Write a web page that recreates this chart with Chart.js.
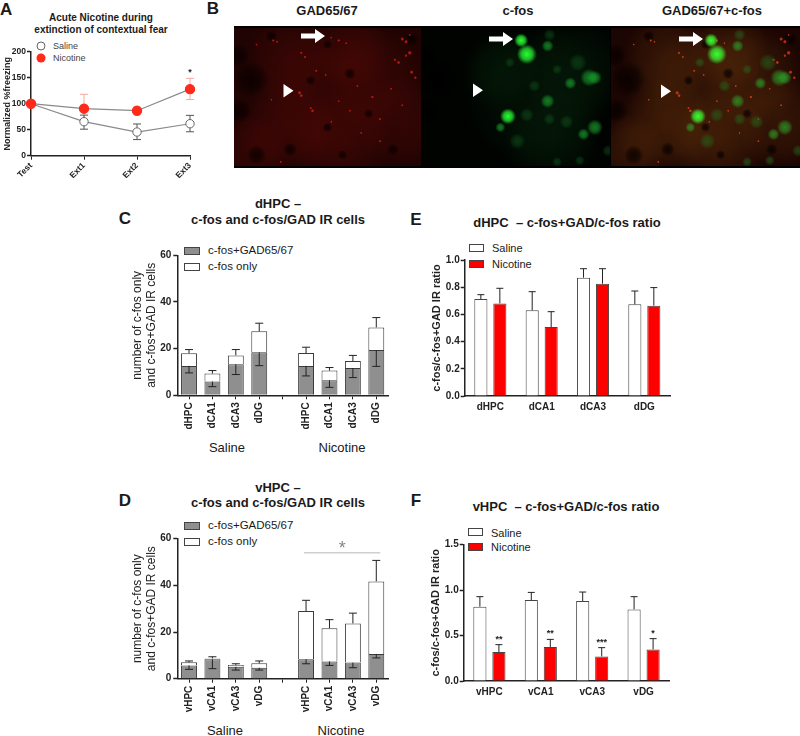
<!DOCTYPE html>
<html>
<head>
<meta charset="utf-8">
<title>Acute nicotine, c-fos and GAD65/67</title>
<script src="https://cdn.jsdelivr.net/npm/chart.js@4"></script>
<style>
  html, body { margin: 0; padding: 0; background: #fff; }
  body { width: 800px; height: 736px; position: relative; overflow: hidden; font-family: "Liberation Sans", Arial, sans-serif; color: #1a1a1a; }
  canvas { position: absolute; }
  .t { position: absolute; white-space: nowrap; line-height: 1; transform: translate(-50%, -50%); }
  .b { font-weight: bold; }
  .l { position: absolute; white-space: nowrap; line-height: 1; transform: translateY(-50%); }
  .sw { position: absolute; box-sizing: border-box; border: 1px solid #444; }
  .dot { position: absolute; width: 9px; height: 9px; border-radius: 50%; box-sizing: border-box; transform: translate(-50%, -50%); }
  #frame { position: absolute; left: 234px; top: 26px; width: 566px; height: 142px; background: #000; }
  .micro { filter: blur(0.7px); }
  svg { position: absolute; left: 0; top: 0; }
</style>
</head>
<body>

<div class="l b" style="left:0;top:9px;font-size:17px">A</div>
<div class="t b" style="left:213px;top:8px;font-size:17px">B</div>
<div class="t b" style="left:125px;top:218px;font-size:17px">C</div>
<div class="t b" style="left:125px;top:500px;font-size:17px">D</div>
<div class="t b" style="left:416px;top:219px;font-size:17px">E</div>
<div class="t b" style="left:416px;top:500px;font-size:17px">F</div>

<div class="t b" style="left:101px;top:18px;font-size:10px">Acute Nicotine during</div>
<div class="t b" style="left:101px;top:30px;font-size:10px">extinction of contextual fear</div>
<div class="dot" style="left:41px;top:46px;background:#fff;border:1px solid #666"></div>
<div class="dot" style="left:41px;top:58px;background:#ff2a1a"></div>
<div class="l" style="left:53px;top:46px;font-size:9px;color:#444">Saline</div>
<div class="l" style="left:53px;top:58px;font-size:9px;color:#444">Nicotine</div>

<div class="t b" style="left:327px;top:10px;font-size:13px">GAD65/67</div>
<div class="t b" style="left:518px;top:10px;font-size:13px">c-fos</div>
<div class="t b" style="left:712px;top:10px;font-size:13px">GAD65/67+c-fos</div>
<div id="frame"></div>

<div class="t b" style="left:278px;top:203px;font-size:13px">dHPC –</div>
<div class="t b" style="left:278px;top:219px;font-size:13px">c-fos and c-fos/GAD IR cells</div>
<div class="sw" style="left:184px;top:247px;width:16px;height:8px;background:#8f8f8f"></div>
<div class="sw" style="left:184px;top:263px;width:16px;height:8px;background:#fff"></div>
<div class="l" style="left:208px;top:251px;font-size:11.5px">c-fos+GAD65/67</div>
<div class="l" style="left:208px;top:267px;font-size:11.5px">c-fos only</div>
<div class="t" style="left:227px;top:447px;font-size:13px">Saline</div>
<div class="t" style="left:342px;top:447px;font-size:13px">Nicotine</div>

<div class="t b" style="left:278px;top:487px;font-size:13px">vHPC –</div>
<div class="t b" style="left:278px;top:502px;font-size:13px">c-fos and c-fos/GAD IR cells</div>
<div class="sw" style="left:184px;top:522px;width:16px;height:8px;background:#8f8f8f"></div>
<div class="sw" style="left:184px;top:538px;width:16px;height:8px;background:#fff"></div>
<div class="l" style="left:208px;top:526px;font-size:11.5px">c-fos+GAD65/67</div>
<div class="l" style="left:208px;top:542px;font-size:11.5px">c-fos only</div>
<div class="t" style="left:225px;top:730px;font-size:13px">Saline</div>
<div class="t" style="left:341px;top:730px;font-size:13px">Nicotine</div>

<div class="t b" style="left:567px;top:222px;font-size:13px">dHPC&nbsp; – c-fos+GAD/c-fos ratio</div>
<div class="sw" style="left:469px;top:244px;width:15px;height:8px;background:#fff"></div>
<div class="sw" style="left:469px;top:260px;width:15px;height:8px;background:#f00"></div>
<div class="l" style="left:492px;top:248px;font-size:11px">Saline</div>
<div class="l" style="left:492px;top:264px;font-size:11px">Nicotine</div>

<div class="t b" style="left:566px;top:506px;font-size:13px">vHPC&nbsp; – c-fos+GAD/c-fos ratio</div>
<div class="sw" style="left:468px;top:528px;width:15px;height:8px;background:#fff"></div>
<div class="sw" style="left:468px;top:543px;width:15px;height:8px;background:#f00"></div>
<div class="l" style="left:491px;top:533px;font-size:11px">Saline</div>
<div class="l" style="left:491px;top:547px;font-size:11px">Nicotine</div>

<script>
// panel A
const daysA = ['Test', 'Ext1', 'Ext2', 'Ext3'];
const salineA = [100, 65.4, 45.5, 61.5];
const salineHighA = [null, 78, 61, 77.6];
const salineLowA = [null, 51, 31, 46];
const nicotineA = [100, 90.4, 86.5, 128];
const nicotineHighA = [null, 118, null, 148.7];
const nicotineLowA = [null, 64.7, null, 108];
const starsA = [null, null, null, '*'];

// panel C
const regionsC = ['dHPC', 'dCA1', 'dCA3', 'dDG', '', 'dHPC', 'dCA1', 'dCA3', 'dDG'];
const gadC = [12.6, 5.9, 13.3, 18.4, null, 12.6, 6.4, 11.7, 19.4];
const onlyC = [5.4, 3.4, 3.8, 9.0, null, 5.5, 4.2, 3.0, 9.7];
const highC = [19.6, 10.6, 19.6, 30.9, null, 20.6, 11.9, 17.1, 33.3];
const lowC = [9.6, 3.7, 8.9, 12.7, null, 8.3, 3.4, 7.6, 12.4];

// panel D
const regionsD = ['vHPC', 'vCA1', 'vCA3', 'vDG', '', 'vHPC', 'vCA1', 'vCA3', 'vDG'];
const gadD = [5.7, 8.3, 5.1, 4.7, null, 8.3, 7.4, 6.9, 10.6];
const onlyD = [1.3, 0.4, 0.8, 1.9, null, 20.7, 14.2, 16.8, 31.1];
const highD = [7.6, 9.4, 6.4, 7.6, null, 33.6, 25.3, 28.1, 50.7];
const lowD = [4, 4.3, 3.7, 3.7, null, 6.4, 5.7, 4.7, 8.9];

// panel E
const regionsE = ['dHPC', 'dCA1', 'dCA3', 'dDG'];
const salineE = [0.713, 0.63, 0.87, 0.674];
const salineHighE = [0.745, 0.767, 0.936, 0.772];
const nicotineE = [0.681, 0.507, 0.826, 0.664];
const nicotineHighE = [0.792, 0.62, 0.936, 0.797];

// panel F
const regionsF = ['vHPC', 'vCA1', 'vCA3', 'vDG'];
const salineF = [0.818, 0.891, 0.88, 0.788];
const salineHighF = [0.928, 0.975, 0.979, 0.928];
const nicotineF = [0.319, 0.374, 0.271, 0.348];
const nicotineHighF = [0.40, 0.458, 0.367, 0.466];
const starsF = ['**', '**', '***', '*'];

// panel B, spots (percent of panel, radius)
const hazeSpots = [
  {x: 48, y: 52, r: 72}, {x: 75, y: 35, r: 52}, {x: 28, y: 72, r: 50}, {x: 90, y: 68, r: 46},
  {x: 58, y: 82, r: 50}, {x: 30, y: 22, r: 46}, {x: 62, y: 15, r: 40}, {x: 10, y: 88, r: 36}
];
const holeSpots = [
  {x: 9, y: 37, r: 18}, {x: 3, y: 60, r: 12}, {x: 2, y: 20, r: 12}, {x: 30, y: 88, r: 7},
  {x: 50, y: 12, r: 5}, {x: 41, y: 38, r: 5}, {x: 62, y: 33, r: 6}, {x: 50, y: 72, r: 5},
  {x: 72, y: 62, r: 5}, {x: 85, y: 88, r: 6}, {x: 12, y: 92, r: 10}, {x: 58, y: 92, r: 5},
  {x: 95, y: 8, r: 7}, {x: 20, y: 6, r: 6}
];
const punctaSpots = [
  {x: 21, y: 9, r: 1.5}, {x: 23, y: 10, r: 1.2}, {x: 36, y: 18, r: 1.5}, {x: 38, y: 21, r: 1.3},
  {x: 52, y: 7, r: 1.2}, {x: 56, y: 9, r: 1.5}, {x: 60, y: 11, r: 1.2}, {x: 90, y: 8, r: 2},
  {x: 92, y: 10, r: 2}, {x: 94, y: 5, r: 1.2}, {x: 94, y: 18, r: 2.2}, {x: 92, y: 20, r: 1.6},
  {x: 86, y: 23, r: 1.5}, {x: 88, y: 25, r: 1.8}, {x: 95, y: 32, r: 2}, {x: 97, y: 36, r: 1.6},
  {x: 35, y: 47, r: 2}, {x: 36, y: 49, r: 1.8}, {x: 44, y: 31, r: 1.4}, {x: 41, y: 58, r: 1.4},
  {x: 42, y: 60, r: 1.8}, {x: 49, y: 34, r: 1.3}, {x: 56, y: 53, r: 1.2}, {x: 74, y: 50, r: 1.6},
  {x: 62, y: 60, r: 1.2}, {x: 78, y: 82, r: 1.3}, {x: 78, y: 66, r: 1.3}, {x: 52, y: 68, r: 1.2},
  {x: 30, y: 46, r: 1.3}, {x: 66, y: 42, r: 1.3}, {x: 84, y: 44, r: 1.2}, {x: 20, y: 52, r: 1.2},
  {x: 25, y: 97, r: 1.3}, {x: 68, y: 76, r: 1.2}, {x: 90, y: 56, r: 1.3}, {x: 12, y: 12, r: 1.2}
];
const cellsBright = [
  {x: 53, y: 9, r: 7}, {x: 56, y: 19, r: 10}, {x: 46, y: 64, r: 8}
];
const cellsMid = [
  {x: 67, y: 13, r: 6}, {x: 89, y: 36, r: 9}, {x: 92, y: 36, r: 7}, {x: 67, y: 53, r: 7},
  {x: 92, y: 72, r: 8}, {x: 86, y: 77, r: 6}, {x: 79, y: 40, r: 6}, {x: 42, y: 72, r: 5}
];
const cellsDim = [
  {x: 68, y: 5, r: 6}, {x: 77, y: 68, r: 7}, {x: 51, y: 82, r: 8}, {x: 68, y: 66, r: 6},
  {x: 56, y: 63, r: 7}, {x: 83, y: 25, r: 9}, {x: 47, y: 25, r: 5}, {x: 72, y: 97, r: 5},
  {x: 99, y: 89, r: 6}, {x: 84, y: 96, r: 5}, {x: 60, y: 42, r: 6}, {x: 72, y: 30, r: 5}
];
const greenHazeSpots = [
  {x: 60, y: 50, r: 75}, {x: 82, y: 30, r: 55}, {x: 70, y: 80, r: 50}, {x: 42, y: 30, r: 40}
];

const ink = '#222';

// whiskers and significance stars, read from dataset.errHigh / errLow / stars
function drawWhiskers(chart) {
  const ctx = chart.ctx, y = chart.scales.y;
  chart.data.datasets.forEach((ds, d) => {
    const meta = chart.getDatasetMeta(d);
    meta.data.forEach((el, i) => {
      if (ds.data[i] == null) return;
      ctx.strokeStyle = ds.errColor || ink;
      ctx.lineWidth = 1;
      [ds.errHigh, ds.errLow].forEach(arr => {
        if (!arr || arr[i] == null) return;
        const py = y.getPixelForValue(arr[i]);
        ctx.beginPath();
        ctx.moveTo(el.x, el.y);
        ctx.lineTo(el.x, py);
        ctx.moveTo(el.x - (ds.capHalf || 4), py);
        ctx.lineTo(el.x + (ds.capHalf || 4), py);
        ctx.stroke();
      });
      if (ds.stars && ds.stars[i]) {
        ctx.fillStyle = ink;
        ctx.font = 'bold 9px "Liberation Sans"';
        ctx.textAlign = 'center';
        ctx.fillText(ds.stars[i], el.x, y.getPixelForValue(ds.errHigh[i]) - 3);
      }
    });
  });
  const sig = chart.options.plugins.sigLine;
  if (sig) {
    const x = chart.scales.x;
    const x1 = x.getPixelForValue(sig.from) - 2, x2 = x.getPixelForValue(sig.to) + 4;
    const py = y.getPixelForValue(sig.value);
    ctx.strokeStyle = '#cfcfcf';
    ctx.lineWidth = 1.5;
    ctx.beginPath();
    ctx.moveTo(x1, py);
    ctx.lineTo(x2, py);
    ctx.stroke();
    ctx.fillStyle = '#888';
    ctx.font = '18px "Liberation Sans"';
    ctx.textAlign = 'center';
    ctx.fillText('*', (x1 + x2) / 2, py + 1);
  }
}
const whiskers = {
  id: 'whiskers',
  // on the line chart the markers sit on top of the whiskers
  beforeDatasetsDraw(chart) { if (chart.config.type === 'line') drawWhiskers(chart); },
  afterDatasetsDraw(chart) { if (chart.config.type !== 'line') drawWhiskers(chart); }
};

function makeCanvas(left, top, w, h, parent) {
  const c = document.createElement('canvas');
  c.width = w;
  c.height = h;
  c.style.left = left + 'px';
  c.style.top = top + 'px';
  c.style.width = w + 'px';
  c.style.height = h + 'px';
  (parent || document.body).appendChild(c);
  return c;
}

// box = where the axes must sit on the page
function plot(type, labels, datasets, box, yOpts, xOpts, extra) {
  const c = makeCanvas(box.cx, box.cy, box.cw, box.ch);
  return new Chart(c, {
    type: type,
    data: {labels: labels, datasets: datasets},
    plugins: [whiskers],
    options: {
      responsive: false,
      animation: false,
      events: [],
      layout: {padding: {left: 0, top: box.top - box.cy, right: box.cx + box.cw - box.right, bottom: 0}},
      plugins: Object.assign({legend: {display: false}, tooltip: {enabled: false}}, extra || {}),
      scales: {
        x: Object.assign({
          stacked: type === 'bar' && box.stacked,
          afterFit: s => { s.height = box.cy + box.ch - box.bottom; },
          grid: {drawOnChartArea: false, offset: false, color: ink, tickLength: 4, tickWidth: 1},
          border: {color: ink, width: 1.5}
        }, xOpts),
        y: Object.assign({
          stacked: type === 'bar' && box.stacked,
          afterFit: s => { s.width = box.left - box.cx; },
          grid: {drawOnChartArea: false, color: ink, tickLength: 4, tickWidth: 1.5},
          border: {color: ink, width: 1.5}
        }, yOpts)
      }
    }
  });
}

const tickFont = {family: 'Liberation Sans', size: 10, weight: 'bold'};
const smallFont = {family: 'Liberation Sans', size: 8.5, weight: 'bold'};

// A
plot('line', daysA, [
  {data: nicotineA, errHigh: nicotineHighA, errLow: nicotineLowA, errColor: '#f5a8a0', stars: starsA,
   borderColor: '#8a8a8a', borderWidth: 1.2, pointRadius: 4.6, pointBackgroundColor: '#ff2a1a', pointBorderColor: '#ff2a1a', tension: 0, order: 1},
  {data: salineA, errHigh: salineHighA, errLow: salineLowA, errColor: '#555',
   borderColor: '#8a8a8a', borderWidth: 1.2, pointRadius: 4.2, pointBackgroundColor: '#fff', pointBorderColor: '#666', pointBorderWidth: 1, tension: 0, order: 2}
], {cx: 0, cy: 40, cw: 200, ch: 150, left: 31, top: 51.7, right: 190, bottom: 155.7},
{min: 0, max: 200, ticks: {stepSize: 50, font: smallFont, color: ink, padding: 1},
 title: {display: true, text: 'Normalized %freezing', color: ink, font: {family: 'Liberation Sans', size: 9, weight: 'bold'}, padding: {top: 2, bottom: 0}}},
{ticks: {minRotation: 45, maxRotation: 45, font: smallFont, color: ink, padding: 1}});

// C, D stacked counts
function stacked(labels, gad, only, high, low, box, extra) {
  const yTitle = ['number of c-fos only', 'and c-fos+GAD IR cells'];
  plot('bar', labels, [
    {data: gad, errLow: low, backgroundColor: '#8f8f8f', borderColor: '#3a3a3a', borderWidth: 1, barPercentage: 0.68, categoryPercentage: 1},
    {data: only, errHigh: high, backgroundColor: '#fff', borderColor: '#3a3a3a', borderWidth: 1, barPercentage: 0.68, categoryPercentage: 1}
  ], box,
  {min: 0, max: 60, ticks: {stepSize: 20, font: tickFont, color: ink, padding: 2},
   title: {display: true, text: yTitle, color: ink, font: {family: 'Liberation Sans', size: 12, lineHeight: 1.17}, padding: {top: 0, bottom: 0}}},
  {ticks: {minRotation: 90, maxRotation: 90, autoSkip: false, font: tickFont, color: ink, padding: 3}}, extra);
}
stacked(regionsC, gadC, onlyC, highC, lowC,
  {cx: 131, cy: 245, cw: 262, ch: 190, left: 177.3, top: 255.3, right: 388, bottom: 395.3, stacked: true});
stacked(regionsD, gadD, onlyD, highD, lowD,
  {cx: 131, cy: 529, cw: 262, ch: 190, left: 177.3, top: 538.7, right: 388, bottom: 678.7, stacked: true},
  {sigLine: {from: 5, to: 8, value: 54}});

// E, F ratios
function ratio(labels, saline, salineHigh, nicotine, nicotineHigh, stars, box, yMax, yStep) {
  plot('bar', labels, [
    {data: saline, errHigh: salineHigh, capHalf: 3.5, backgroundColor: '#fff', borderColor: '#444', borderWidth: 1, barPercentage: 0.69, categoryPercentage: 0.74},
    {data: nicotine, errHigh: nicotineHigh, capHalf: 3.5, stars: stars, backgroundColor: '#f00', borderColor: '#444', borderWidth: 1, barPercentage: 0.69, categoryPercentage: 0.74}
  ], box,
  {min: 0, max: yMax, ticks: {stepSize: yStep, font: tickFont, color: ink, padding: 1,
    callback: v => v.toFixed(1)},
   title: {display: true, text: 'c-fos/c-fos+GAD IR ratio', color: ink, font: {family: 'Liberation Sans', size: 11, weight: 'bold'}, padding: {top: 0, bottom: 0}}},
  {ticks: {font: tickFont, color: ink, padding: 5}, grid: {display: false, tickLength: 0}});
}
ratio(regionsE, salineE, salineHighE, nicotineE, nicotineHighE, null,
  {cx: 430, cy: 250, cw: 246, ch: 170, left: 464.7, top: 260, right: 670, bottom: 396}, 1, 0.2);
ratio(regionsF, salineF, salineHighF, nicotineF, nicotineHighF, starsF,
  {cx: 429, cy: 535, cw: 247, ch: 165, left: 463.7, top: 544.7, right: 669.3, bottom: 681}, 1.5, 0.5);

// B, three micrographs as soft bubble charts
// big bubbles would otherwise squeeze the chart area by their radius
Chart.registry.getController('bubble').prototype.getMaxOverflow = () => false;

function glow(rgb, alpha) {
  return c => {
    if (!c.raw) return 'transparent';
    const s = c.chart.scales;
    const x = s.x.getPixelForValue(c.raw.x), y = s.y.getPixelForValue(c.raw.y);
    if (!isFinite(x) || !isFinite(y)) return 'transparent';
    const g = c.chart.ctx.createRadialGradient(x, y, 0, x, y, c.raw.r);
    g.addColorStop(0, 'rgba(' + rgb + ',' + alpha + ')');
    g.addColorStop(0.55, 'rgba(' + rgb + ',' + alpha * 0.7 + ')');
    g.addColorStop(1, 'rgba(' + rgb + ',0)');
    return g;
  };
}
function layer(spots, rgb, alpha) {
  return {data: spots, backgroundColor: glow(rgb, alpha), borderWidth: 0};
}
function micrograph(left, width, base, layers) {
  const c = makeCanvas(left, 2, width, 138, document.getElementById('frame'));
  c.className = 'micro';
  c.style.background = base;
  new Chart(c, {
    type: 'bubble',
    data: {datasets: layers},
    options: {
      responsive: false,
      animation: false,
      events: [],
      layout: {padding: 0},
      plugins: {legend: {display: false}, tooltip: {enabled: false}},
      scales: {
        x: {display: false, min: 0, max: 100},
        y: {display: false, min: 0, max: 100, reverse: true}
      }
    }
  });
}
// first layer ends up on top
micrograph(0, 187, '#200403', [
  layer(punctaSpots, '215,30,22', 0.9),
  layer(holeSpots, '10,0,0', 0.8),
  layer(hazeSpots, '105,12,8', 0.25)
]);
micrograph(187, 189, '#000300', [
  layer(cellsBright, '40,255,50', 1),
  layer(cellsMid, '25,160,45', 0.75),
  layer(cellsDim, '18,90,30', 0.5),
  layer(holeSpots.slice(0, 3), '0,0,0', 0.9),
  layer(greenHazeSpots, '10,60,20', 0.22)
]);
micrograph(377, 189, '#1c0603', [
  layer(cellsBright, '60,255,50', 1),
  layer(cellsMid, '45,160,40', 0.75),
  layer(cellsDim, '35,110,30', 0.55),
  layer(punctaSpots, '235,60,20', 0.9),
  layer(holeSpots, '8,0,0', 0.8),
  layer(hazeSpots, '115,62,14', 0.27)
]);
</script>

<svg width="800" height="200" fill="#fff">
  <path d="M301 33.5h14v-4.5l10 7-10 7v-4.5h-14z"/>
  <path d="M489 36.5h14v-4.5l10 7-10 7v-4.5h-14z"/>
  <path d="M679 36.5h14v-4.5l10 7-10 7v-4.5h-14z"/>
  <path d="M283.5 84l10 6.8-10 6.8z"/>
  <path d="M473 83.5l10 6.8-10 6.8z"/>
  <path d="M661 84.5l10 6.8-10 6.8z"/>
</svg>
</body>
</html>
